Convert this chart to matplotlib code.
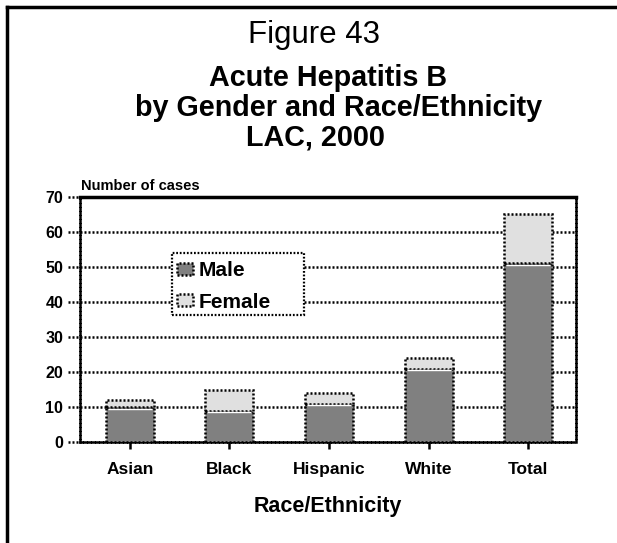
import matplotlib
matplotlib.use("Agg")
import matplotlib.pyplot as plt
from matplotlib.lines import Line2D
from matplotlib.patches import Rectangle

plt.rcParams['font.family'] = ['Liberation Sans', 'DejaVu Sans']

groups = ['Asian', 'Black', 'Hispanic', 'White', 'Total']
male = [10, 9, 11, 21, 51]
female = [2, 6, 3, 3, 14]
yticks = [0, 10, 20, 30, 40, 50, 60, 70]

DOT = (0, (0.8, 0.8))
W, H = 617, 543
BAR_W = 0.482


def fx(px):
    return px / W


def fy(py):
    return 1 - py / H


fig = plt.figure(figsize=(6.17, 5.43), dpi=100)
ax = fig.add_axes([fx(80), fy(442.3), (576 - 80) / W, (442.3 - 196.7) / H])

x = list(range(len(groups)))
ax.bar(x, male, width=BAR_W, color='#808080', edgecolor='black',
       linewidth=1.8, linestyle=DOT, label='Male', zorder=3)
ax.bar(x, female, bottom=male, width=BAR_W, color='#e0e0e0', edgecolor='black',
       linewidth=1.8, linestyle=DOT, label='Female', zorder=3)
# thin white highlight just under the top of each male segment
ax.hlines([m - 0.5 for m in male], [i - BAR_W / 2 + 0.02 for i in x],
          [i + BAR_W / 2 - 0.02 for i in x], color='white', linewidth=1, zorder=4)

ax.set_xlim(-0.5, 4.48)
ax.set_ylim(0, 70)
ax.set_yticks(yticks)
ax.set_xticks(x)
ax.set_xticklabels(groups, fontsize=12.5, fontweight='bold')
ax.set_yticklabels([str(v) for v in yticks], fontsize=11.5, fontweight='bold')
ax.tick_params(axis='y', length=0, pad=12)
ax.tick_params(axis='x', length=5, width=1.8, pad=9)

# dotted gridlines, continued a bit left of the axis as ticks
for v in yticks[1:-1]:
    ax.axhline(v, color='black', linewidth=1.8, linestyle=DOT, zorder=1)
for v in yticks:
    ax.plot([-0.62, -0.5], [v, v], color='black', linewidth=1.8,
            linestyle=DOT, clip_on=False)

for side in ['left', 'right', 'bottom']:
    ax.spines[side].set_linestyle(DOT)
    ax.spines[side].set_linewidth(1.8)
ax.spines['top'].set_linewidth(2.5)

ax.set_xlabel('Race/Ethnicity', fontsize=15.5, fontweight='bold', labelpad=14)
fig.text(fx(81), fy(190), 'Number of cases', fontsize=10.5,
         fontweight='bold', va='baseline', ha='left')

# legend box is wider than its contents
frame = Rectangle((fx(172), fy(315)), (304 - 172) / W, (315 - 253) / H,
                  transform=fig.transFigure, facecolor='white', edgecolor='black',
                  linewidth=1.6, linestyle=DOT, zorder=4)
ax.add_patch(frame)
frame.set_clip_on(False)
leg = ax.legend(loc='upper left', bbox_to_anchor=(fx(177), fy(261)),
                bbox_transform=fig.transFigure, frameon=False,
                prop={'weight': 'bold', 'size': 15},
                handlelength=0.78, handleheight=0.5, handletextpad=0.25,
                labelspacing=0.6, borderpad=0, borderaxespad=0)
leg.set_zorder(5)

fig.text(fx(314), fy(43.5), 'Figure 43', fontsize=22.5, ha='center', va='baseline')
fig.text(fx(328), fy(86), 'Acute Hepatitis B', fontsize=20.7,
         fontweight='bold', ha='center', va='baseline')
fig.text(fx(339), fy(116.5), 'by Gender and Race/Ethnicity', fontsize=20.7,
         fontweight='bold', ha='center', va='baseline')
fig.text(fx(315), fy(146), 'LAC, 2000', fontsize=20.7,
         fontweight='bold', ha='center', va='baseline')

# page border (top and left edges only)
fig.add_artist(Line2D([fx(7), 1], [fy(7), fy(7)], color='black', linewidth=2.5))
fig.add_artist(Line2D([fx(7), fx(7)], [0, fy(7)], color='black', linewidth=2.5))

fig.savefig('out.png', dpi=100)
